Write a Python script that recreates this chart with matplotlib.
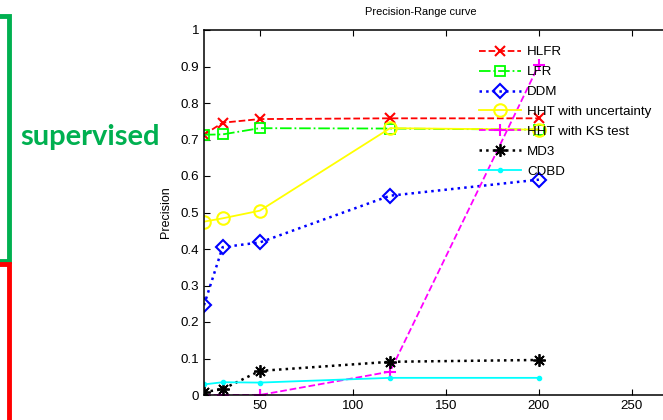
import matplotlib
matplotlib.use("Agg")
import matplotlib.pyplot as plt
from matplotlib.patches import Rectangle

plt.rcParams['font.family'] = ['Liberation Sans', 'DejaVu Sans']

# range values on the x axis
ranges = [20, 30, 50, 120, 200]

# precision per method
hlfr = [0.713, 0.746, 0.756, 0.758, 0.758]
lfr = [0.713, 0.714, 0.731, 0.730, 0.727]
ddm = [0.246, 0.405, 0.418, 0.546, 0.590]
hht_unc = [0.475, 0.484, 0.505, 0.731, 0.727]
hht_ks = [0.0, 0.0, 0.0, 0.064, 0.905]
md3 = [0.008, 0.016, 0.066, 0.091, 0.096]
cdbd = [0.029, 0.035, 0.034, 0.047, 0.047]

fig = plt.figure(figsize=(6.63, 4.2), dpi=100)

# axes runs past the right edge, like in the cropped screenshot
ax = fig.add_axes([204 / 663, 25 / 420, 521 / 663, 365 / 420])

lw = 1.3
ax.plot(ranges, hlfr, color='r', ls='--', lw=lw, marker='x', ms=7, mew=1.5, label='HLFR')
ax.plot(ranges, lfr, color=(0, 1, 0), ls='-.', lw=lw, marker='s', ms=7.5, mfc='none', mew=1.3, label='LFR')
ax.plot(ranges, ddm, color='b', ls=':', lw=1.8, marker='D', ms=7, mfc='none', mew=1.5, label='DDM')
ax.plot(ranges, hht_unc, color=(1, 1, 0), ls='-', lw=lw, marker='o', ms=9, mfc='none', mew=1.5,
        label='HHT with uncertainty')
ax.plot(ranges, hht_ks, color=(1, 0, 1), ls='--', lw=lw, marker='+', ms=9, mew=1.5, label='HHT with KS test')
ax.plot(ranges, md3, color='k', ls=':', lw=1.8, marker=(8, 2, 0), ms=9, mew=1.3, label='MD3')
ax.plot(ranges, cdbd, color=(0, 1, 1), ls='-', lw=lw, marker='.', ms=6, label='CDBD')

ax.set_xlim(20, 300)
ax.set_ylim(0, 1)
ax.set_xticks([50, 100, 150, 200, 250])
ax.set_yticks([i / 10 for i in range(11)])
ax.set_yticklabels(['0', '0.1', '0.2', '0.3', '0.4', '0.5', '0.6', '0.7', '0.8', '0.9', '1'])
ax.tick_params(direction='in', top=True, right=True, length=4, width=0.8, labelsize=9.6, pad=3.5)
for s in ax.spines.values():
    s.set_linewidth(1.1)
ax.set_ylabel('Precision', fontsize=9, labelpad=6)

fig.text(421 / 663, 1 - 12 / 420, 'Precision-Range curve', ha='center', va='center', fontsize=7.9)

ax.legend(loc='upper left', bbox_to_anchor=(479 / 663, 1 - 46 / 420), bbox_transform=fig.transFigure,
          frameon=False, fontsize=9.6, borderpad=0, borderaxespad=0, handlelength=3.15,
          handletextpad=0.45, labelspacing=0.57)

# coloured brackets on the left edge
green = '#00B050'
fig.patches.append(Rectangle((-5 / 663, 1 - 261 / 420), 14 / 663, 245 / 420, transform=fig.transFigure,
                             fill=False, ec=green, lw=3.5))
fig.patches.append(Rectangle((-5 / 663, -10 / 420), 14 / 663, 166 / 420, transform=fig.transFigure,
                             fill=False, ec='red', lw=3.5))
fig.text(20 / 663, 1 - 137 / 420, 'supervised', color=green, fontsize=21, fontweight='bold',
         family=['Lato', 'DejaVu Sans'], ha='left', va='center')

fig.savefig('out.png', dpi=100)
